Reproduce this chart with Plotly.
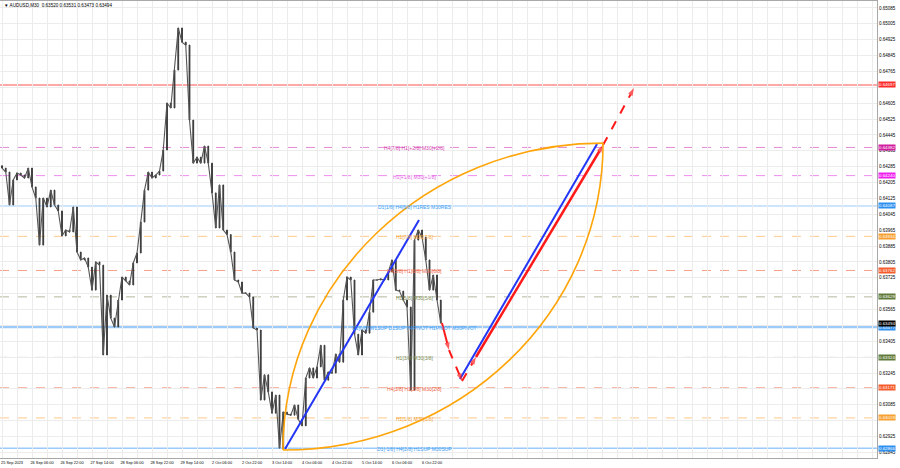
import plotly.graph_objects as go

# ---------------- data ----------------
chart_title = "\u25BC AUDUSD,M30  0.63520 0.63531 0.63473 0.63494"

bar_step = 4  # each drawn candle = 4 x M30 bars
first_open = 0.64290
close = [
    0.64278, 0.64258, 0.64092, 0.64218, 0.64253, 0.64243, 0.64228, 0.64278, 0.64183, 0.64127,
    0.63890, 0.64127, 0.64082, 0.64167, 0.64092, 0.64062, 0.63936, 0.63966, 0.63956, 0.64082,
    0.63855, 0.63815, 0.63825, 0.63779, 0.63663, 0.63805, 0.63789, 0.63336, 0.63638, 0.63522,
    0.63477, 0.63613, 0.63729, 0.63709, 0.63689, 0.63800, 0.63850, 0.64006, 0.64167, 0.64258,
    0.64228, 0.64243, 0.64263, 0.64369, 0.64606, 0.64581, 0.64772, 0.64984, 0.64913, 0.64898,
    0.64520, 0.64303, 0.64333, 0.64303, 0.64389, 0.64303, 0.64153, 0.63976, 0.64193, 0.63966,
    0.63943, 0.63855, 0.63714, 0.63704, 0.63648, 0.63648, 0.63628, 0.63472, 0.63462, 0.63109,
    0.63236, 0.63150, 0.63043, 0.63134, 0.62867, 0.63048, 0.63038, 0.63033, 0.63084, 0.63012,
    0.62979, 0.63220, 0.63271, 0.63220, 0.63276, 0.63385, 0.63209, 0.63250, 0.63245, 0.63341,
    0.63300, 0.63613, 0.63729, 0.63714, 0.63441, 0.63336, 0.63462, 0.63446, 0.63552, 0.63714,
    0.63714, 0.63719, 0.63714, 0.63754, 0.63815, 0.63663, 0.63658, 0.63613, 0.63578, 0.63159,
    0.63915, 0.63966, 0.63930, 0.63815, 0.63663, 0.63739, 0.63613, 0.63497,
]

time_labels = ["25 Sep 2023", "26 Sep 06:00", "26 Sep 22:00", "27 Sep 14:00", "28 Sep 06:00",
               "28 Sep 22:00", "29 Sep 14:00", "2 Oct 06:00", "2 Oct 22:00", "3 Oct 14:00",
               "4 Oct 06:00", "4 Oct 22:00", "5 Oct 14:00", "6 Oct 06:00", "6 Oct 22:00"]
label_every = 32   # bars between time labels
grid_every = 16    # bars between vertical grid lines
x_range = [-2.13, 933.3]

price_ticks = [round(0.65085 - 0.0008 * k, 5) for k in range(29)]
y_range = [0.62817, 0.65120]

level_price = [0.64697, 0.64382, 0.64240, 0.64087, 0.63934, 0.63762, 0.63629,
               0.63477, 0.63324, 0.63171, 0.63019, 0.62866]
level_text = ["", "H4[7/8] H1[+2/8] M30[+2/8]", "H1[+1/8] M30[+1/8]",
              "D1[1/8] H4[6/8] H1RES M30RES", "H1[7/8] M30[7/8]",
              "H4[5/8] H1[6/8] M30[6/8]", "H1[5/8] M30[5/8]",
              "D1[0/8] W1SUP D1SUP H4PIVOT H1PIVOT M30PIVOT", "H1[3/8] M30[3/8]",
              "H4[3/8] H1[2/8] M30[2/8]", "H1[1/8] M30[1/8]", "D1[-1/8] H4[2/8] H1SUP M30SUP"]
level_line_color = ["#ffa8a8", "#e58ad6", "#f08cf0", "#9ccbfa", "#fcc98a", "#f7a08a", "#b8b8a0",
                    "#9ccbfa", "#b8b8a0", "#f7a08a", "#fcc98a", "#9ccbfa"]
level_dash = ["solid", "dash", "dash", "solid", "dash", "dash", "dash",
              "solid", "dash", "dash", "dash", "solid"]
level_width = [2, 1, 1, 1, 1, 1, 1, 2.5, 1, 1, 1, 1.5]
level_text_color = ["#ff2a2a", "#d63fae", "#e65ce6", "#3ea0f5", "#f5a030", "#f06040", "#7a8a50",
                    "#3ea0f5", "#7a8a50", "#f06040", "#f5a030", "#3ea0f5"]
level_box_color = ["#ff2a2a", "#d11f9f", "#f020f0", "#2e90f0", "#f7a030", "#f55a2a", "#5f7a3a",
                   "#2e90f0", "#5f7a3a", "#f55a2a", "#f7a030", "#2e90f0"]
level_label_bar = 440

current_price = 0.63494

# analyst drawings (bar index, price)
arc_start = (299.7, 0.62857)
arc_end = (641.1, 0.64404)
blue_line_1 = ([301.9, 444.8], [0.62862, 0.64016])
blue_line_2 = ([488.5, 634.7], [0.63215, 0.64399])
forecast_bar = [469.3, 476.8, 490.7, 505.6, 641.1, 674.1]
forecast_price = [0.63497, 0.63361, 0.63205, 0.63326, 0.64394, 0.64681]
forecast_dash = ["solid", "dash", "dash", "solid", "dash"]
forecast_width = [2, 2, 2, 2.5, 2]

# ---------------- figure ----------------
opens = [first_open] + close[:-1]
highs = [max(o, c) for o, c in zip(opens, close)]
lows = [min(o, c) for o, c in zip(opens, close)]
bars = [k * bar_step for k in range(len(close))]

fig = go.Figure()

candle_col = "#3a3a3a"
# thin price path joining the candles
fig.add_trace(go.Scatter(x=bars, y=close, mode="lines", line=dict(color="#555555", width=1.1),
                         showlegend=False, hoverinfo="skip"))
fig.add_trace(go.Candlestick(
    x=bars, open=opens, high=highs, low=lows, close=close,
    increasing=dict(line=dict(color=candle_col, width=1), fillcolor=candle_col),
    decreasing=dict(line=dict(color=candle_col, width=1), fillcolor=candle_col),
    whiskerwidth=0, showlegend=False, hoverinfo="skip"))

# blue trend lines
for bx, py in (blue_line_1, blue_line_2):
    fig.add_trace(go.Scatter(x=bx, y=py, mode="lines",
                             line=dict(color="#2336f5", width=2),
                             showlegend=False, hoverinfo="skip"))

# red forecast path with arrowheads
for s in range(len(forecast_dash)):
    fig.add_trace(go.Scatter(
        x=forecast_bar[s:s + 2], y=forecast_price[s:s + 2], mode="lines+markers",
        line=dict(color="#ff1a1a", width=forecast_width[s], dash=forecast_dash[s]),
        marker=dict(symbol="arrow", size=[0, 8], angleref="previous", color="#ff1a1a",
                    line=dict(width=0)),
        showlegend=False, hoverinfo="skip"))

shapes = []
for p, c, d, w in zip(level_price, level_line_color, level_dash, level_width):
    shapes.append(dict(type="line", xref="paper", x0=0, x1=1, yref="y", y0=p, y1=p,
                       line=dict(color=c, width=w, dash=d), layer="below"))

# orange "leaf" arcs (quarter ellipses, cubic Bezier approximation)
kappa = 0.5523
ax_, ay_ = arc_start
bx_, by_ = arc_end
upper = (f"M {ax_},{ay_} C {ax_},{ay_ + kappa * (by_ - ay_)} "
         f"{bx_ - kappa * (bx_ - ax_)},{by_} {bx_},{by_}")
lower = (f"M {ax_},{ay_} C {ax_ + kappa * (bx_ - ax_)},{ay_} "
         f"{bx_},{by_ - kappa * (by_ - ay_)} {bx_},{by_}")
for path in (upper, lower):
    shapes.append(dict(type="path", xref="x", yref="y", path=path,
                       line=dict(color="#ffa50a", width=1.6)))

annotations = [dict(xref="paper", yref="paper", x=0.002, y=0.999, xanchor="left", yanchor="top",
                    text=chart_title, showarrow=False, font=dict(size=4.6, color="#000000"))]

for p, t, tc in zip(level_price, level_text, level_text_color):
    if t:
        annotations.append(dict(x=level_label_bar, y=p, xref="x", yref="y", text=t,
                                showarrow=False, yshift=-1,
                                font=dict(size=5, color=tc)))

for p, bc in zip(level_price, level_box_color):
    annotations.append(dict(x=1, y=p, xref="paper", yref="y", xanchor="left", xshift=1,
                            text=f"{p:.5f}", showarrow=False, bgcolor=bc, borderpad=0,
                            font=dict(size=4.4, color="#ffffff")))
annotations.append(dict(x=1, y=current_price, xref="paper", yref="y", xanchor="left", xshift=1,
                        text=f"{current_price:.5f}", showarrow=False, bgcolor="#000000",
                        borderpad=0, font=dict(size=4.4, color="#ffffff")))

# like the terminal, drop price-scale labels that sit under a coloured price box
box_prices = level_price + [current_price]
y_ticktext = ["" if any(abs(v - b) < 0.00016 for b in box_prices) else f"{v:.5f}"
              for v in price_ticks]

x_tickvals = list(range(0, int(x_range[1]) + 1, grid_every))
x_ticktext = []
for v in x_tickvals:
    idx = v // label_every
    if v % label_every == 0 and idx < len(time_labels):
        x_ticktext.append(time_labels[idx])
    else:
        x_ticktext.append("")

fig.update_layout(
    width=900, height=468,
    margin=dict(l=0, r=23, t=1, b=10),
    paper_bgcolor="white", plot_bgcolor="white",
    boxgap=0.7,
    font=dict(family="Liberation Sans, Arial, sans-serif", size=5, color="#000000"),
    shapes=shapes, annotations=annotations,
    xaxis=dict(range=x_range, tickvals=x_tickvals, ticktext=x_ticktext,
               showgrid=True, gridcolor="#ececec", gridwidth=1, zeroline=False,
               showline=True, linecolor="#a8a8a8", mirror=True, ticks="",
               tickfont=dict(size=3.9), ticklabelshift=10,
               rangeslider=dict(visible=False)),
    yaxis=dict(side="right", range=y_range, tickvals=price_ticks,
               ticktext=y_ticktext,
               showgrid=True, gridcolor="#ececec", gridwidth=1, zeroline=False,
               showline=True, linecolor="#a8a8a8", mirror=True, ticks="",
               tickfont=dict(size=4.5)),
)

fig.write_html("out.html", config={"displayModeBar": False},
               post_script="document.body.style.margin='0';document.body.style.overflow='hidden';")
